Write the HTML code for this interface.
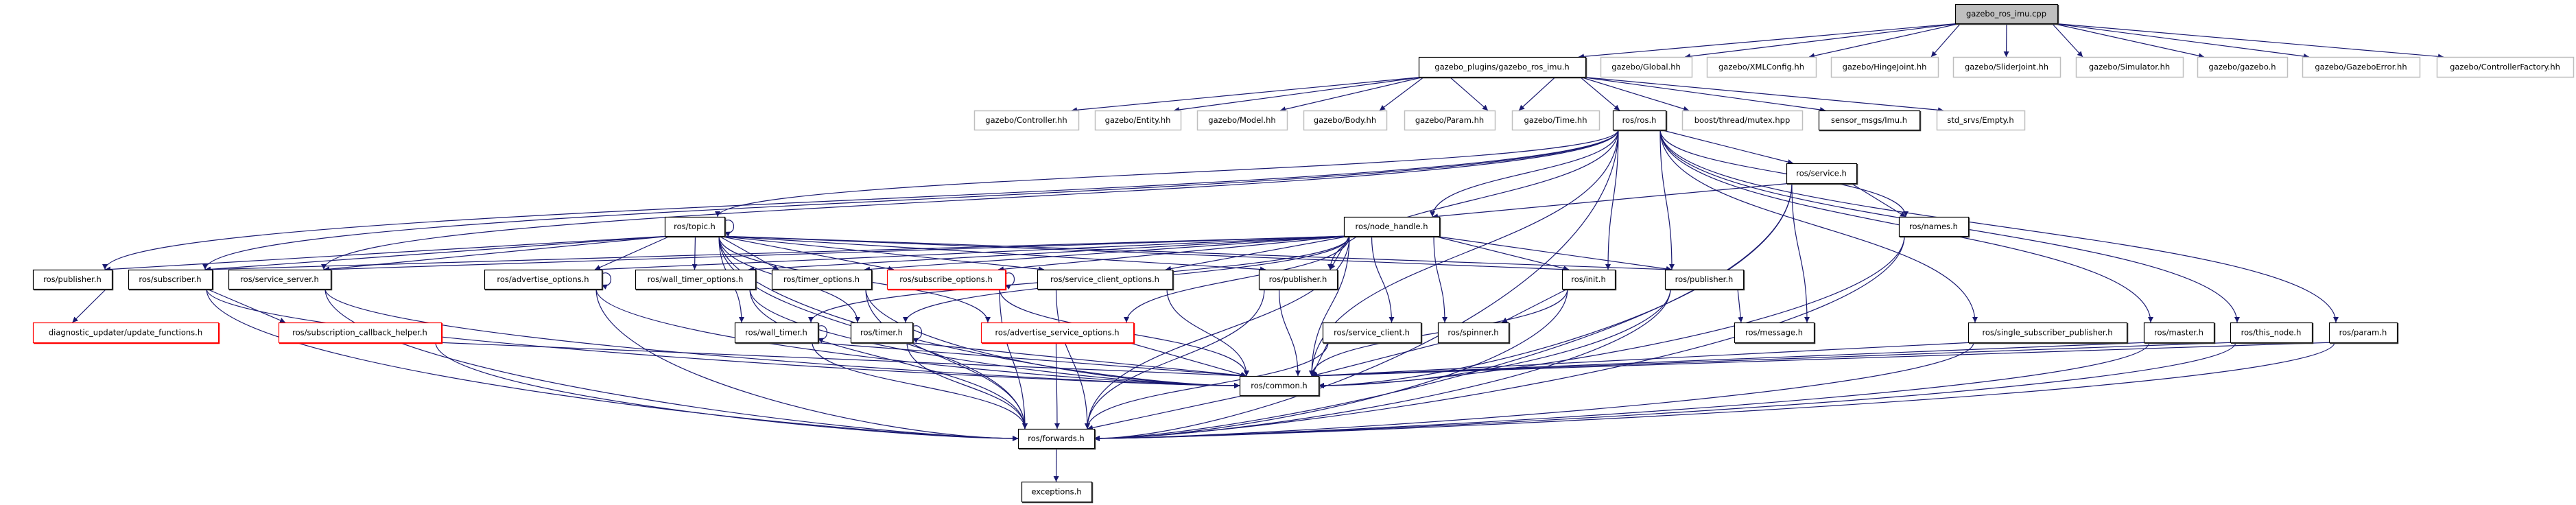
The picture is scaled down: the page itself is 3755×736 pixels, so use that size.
<!DOCTYPE html>
<html><head><meta charset="utf-8">
<style>
html,body{margin:0;padding:0;background:#fff;}
svg{display:block;}
text{font-family:"DejaVu Sans","Liberation Sans",sans-serif;font-size:11.5px;fill:#000;}
</style></head>
<body>
<svg id="g" width="3755" height="736" viewBox="0 0 3755 736" xmlns="http://www.w3.org/2000/svg">
<defs>
<marker id="a" viewBox="0 0 10 10" refX="10" refY="5" markerWidth="8" markerHeight="8" markerUnits="userSpaceOnUse" orient="auto">
<path d="M0,0 L10,5 L0,10 z" fill="#191970"/>
</marker>
</defs>
<g id="edges" fill="none" stroke="#191970" stroke-width="1.2"></g>
<g id="nodes"></g>
</svg>
<script>
var R=[[6,34],[83,112],[161,189],[238,267],[316,344],[393,421],[470,499],[548,576],[625,653],[702,731]];
var N={
root:["gazebo_ros_imu.cpp",2850,2999,0,"f"],
plugins:["gazebo_plugins/gazebo_ros_imu.h",2068,2311,1,"b"],
Global:["gazebo/Global.hh",2333,2466,1,"g"],
XML:["gazebo/XMLConfig.hh",2488,2647,1,"g"],
Hinge:["gazebo/HingeJoint.hh",2669,2825,1,"g"],
Slider:["gazebo/SliderJoint.hh",2847,3003,1,"g"],
Sim:["gazebo/Simulator.hh",3026,3182,1,"g"],
gzh:["gazebo/gazebo.h",3203,3334,1,"g"],
GErr:["gazebo/GazeboError.hh",3356,3527,1,"g"],
CF:["gazebo/ControllerFactory.hh",3552,3751,1,"g"],
Ctrl:["gazebo/Controller.hh",1420,1572,2,"g"],
Ent:["gazebo/Entity.hh",1596,1721,2,"g"],
Mod:["gazebo/Model.hh",1745,1876,2,"g"],
Body:["gazebo/Body.hh",1900,2021,2,"g"],
Par:["gazebo/Param.hh",2047,2179,2,"g"],
Time:["gazebo/Time.hh",2204,2331,2,"g"],
ros:["ros/ros.h",2351,2428,2,"b"],
mutex:["boost/thread/mutex.hpp",2452,2627,2,"g"],
imu:["sensor_msgs/Imu.h",2651,2798,2,"b"],
empty:["std_srvs/Empty.h",2823,2951,2,"g"],
service:["ros/service.h",2604,2706,3,"b"],
topic:["ros/topic.h",969,1056,4,"b"],
nh:["ros/node_handle.h",1959,2098,4,"b"],
names:["ros/names.h",2768,2869,4,"b"],
pubL:["ros/publisher.h",48,163,5,"b"],
sub:["ros/subscriber.h",187,309,5,"b"],
ss:["ros/service_server.h",333,482,5,"b"],
ao:["ros/advertise_options.h",706,877,5,"b"],
wto:["ros/wall_timer_options.h",926,1101,5,"b"],
to:["ros/timer_options.h",1125,1270,5,"b"],
so:["ros/subscribe_options.h",1293,1465,5,"r"],
sco:["ros/service_client_options.h",1512,1709,5,"b"],
pubM:["ros/publisher.h",1835,1949,5,"b"],
init:["ros/init.h",2277,2354,5,"b"],
pubR:["ros/publisher.h",2427,2541,5,"b"],
diag:["diagnostic_updater/update_functions.h",48,318,6,"r"],
scb:["ros/subscription_callback_helper.h",406,643,6,"r"],
wt:["ros/wall_timer.h",1071,1192,6,"b"],
tm:["ros/timer.h",1240,1330,6,"b"],
aso:["ros/advertise_service_options.h",1430,1652,6,"r"],
sc:["ros/service_client.h",1928,2071,6,"b"],
spin:["ros/spinner.h",2096,2199,6,"b"],
msg:["ros/message.h",2528,2644,6,"b"],
ssp:["ros/single_subscriber_publisher.h",2869,3100,6,"b"],
master:["ros/master.h",3125,3227,6,"b"],
tn:["ros/this_node.h",3251,3370,6,"b"],
param:["ros/param.h",3395,3494,6,"b"],
common:["ros/common.h",1807,1922,7,"b"],
fwd:["ros/forwards.h",1484,1595,8,"b"],
exc:["exceptions.h",1489,1591,9,"b"]
};
var E={
root:"plugins Global XML Hinge Slider Sim gzh GErr CF",
plugins:"Ctrl Ent Mod Body Par Time ros mutex imu empty",
ros:"topic nh service names init pubM pubR pubL sub ss common fwd ssp master tn param",
service:"nh names msg common fwd",
names:"common fwd",
topic:"pubL sub ss ao wto to so sco pubM init pubR tm wt aso common fwd",
nh:"sub ss ao wto to so sco pubM init pubR spin sc tm wt aso common fwd",
pubL:"diag",sub:"scb common fwd",ss:"common fwd",ao:"common fwd",wto:"common fwd",
to:"common fwd",so:"common fwd",sco:"common fwd",pubM:"common fwd",init:"spin common fwd",
pubR:"msg common fwd",wt:"common fwd",tm:"common fwd",aso:"fwd common",sc:"common fwd",
spin:"common",ssp:"common fwd",master:"common fwd",tn:"common fwd",param:"common fwd",
scb:"common fwd",common:"fwd",fwd:"exc"
};
var NS="http://www.w3.org/2000/svg";
function el(t,a,p){var e=document.createElementNS(NS,t);for(var k in a)e.setAttribute(k,a[k]);p.appendChild(e);return e;}
function cl(v,a,b){return Math.max(a,Math.min(b,v));}
var eg=document.getElementById("edges"),ng=document.getElementById("nodes");
for(var s in E){E[s].split(" ").forEach(function(t){
 var S=N[s],T=N[t];
 var scx=(S[1]+S[2])/2,tcx=(T[1]+T[2])/2;
 var sy=R[S[3]][1],ty=R[T[3]][0];
 var sx=cl(tcx,S[1]+8,S[2]-8),tx=cl(scx,T[1]+10,T[2]-10);
 var dy=ty-sy,d;
 if(T[3]-S[3]==1){
   d="M"+sx+","+sy+" L"+tx+","+ty;
 } else if(T[3]-S[3]>=2 && Math.abs(tcx-scx)>600 && (t=="common"||t=="fwd")){
   var side=scx<tcx?T[1]:T[2]; var my=(R[T[3]][0]+R[T[3]][1])/2;
   d="M"+sx+","+sy+" C"+sx+","+(sy+dy*0.6)+" "+(side+(scx<tcx?-200:200))+","+my+" "+side+","+my;
 } else {
   d="M"+sx+","+sy+" C"+sx+","+(sy+dy*0.5)+" "+tx+","+(ty-dy*0.5)+" "+tx+","+ty;
 }
 el("path",{d:d,"marker-end":"url(#a)"},eg);
});}
["topic","so","ao","wt","tm"].forEach(function(k){var n=N[k],r=R[n[3]];
 el("path",{d:"M"+n[2]+","+(r[0]+6)+" C"+(n[2]+18)+","+(r[0]-2)+" "+(n[2]+18)+","+(r[1]+2)+" "+n[2]+","+(r[1]-6),"marker-end":"url(#a)"},eg);});
for(var k in N){var n=N[k],r=R[n[3]],w=n[2]-n[1],h=r[1]-r[0];
 var st=n[4],stroke=st=="g"?"#bfbfbf":(st=="r"?"#ff0000":"#000"),fill=st=="f"?"#bfbfbf":"#fff";
 el("rect",{x:n[1]+0.5,y:r[0]+0.5,width:w,height:h,fill:fill,stroke:stroke,"stroke-width":st=="g"?1.5:1.2},ng);
 if(st!="g") el("path",{d:"M"+(n[1]+1)+","+(r[1]+1.5)+" H"+(n[2]+1.5)+" V"+(r[0]+1),fill:"none",stroke:st=="r"?"#ff0000":"#333","stroke-width":1.5},ng);
 var tx=el("text",{x:(n[1]+n[2])/2,y:(r[0]+r[1])/2+4,"text-anchor":"middle"},ng);tx.textContent=n[0];}
</script>
</body></html>
